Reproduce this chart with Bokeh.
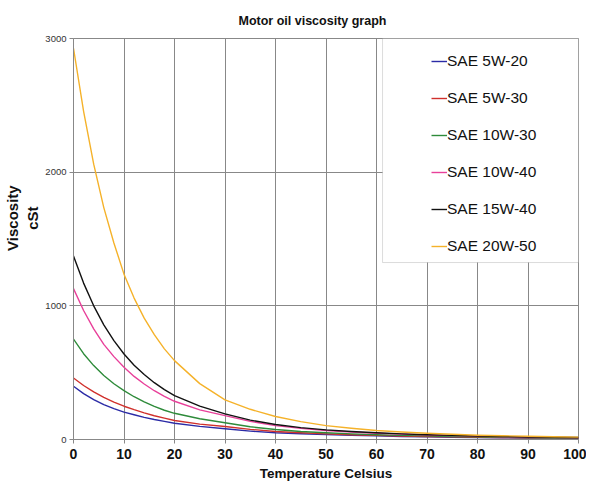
from bokeh.plotting import figure
from bokeh.models import Legend, LegendItem, BoxAnnotation, Range1d, FixedTicker
from bokeh.embed import file_html
from bokeh.resources import INLINE

temps = [0, 2, 4, 6, 8, 10, 12, 14, 16, 18, 20, 25, 30, 35, 40, 45, 50, 55, 60, 65, 70, 75, 80, 85, 90, 95, 100]

sae_5w20 = [398, 343, 298, 261, 231, 205, 185, 166, 150, 136, 122, 98, 80, 63, 50, 43, 37, 31, 27, 23, 20, 17, 15, 13, 11, 10, 9]
sae_5w30 = [460, 404, 356, 315, 280, 249, 223, 199, 178, 160, 142, 115, 97, 76, 60, 50, 42, 36, 31, 26, 23, 20, 17, 15, 13, 12, 11]
sae_10w30 = [751, 642, 553, 479, 417, 366, 320, 282, 248, 219, 196, 155, 125, 95, 75, 60, 50, 42, 36, 31, 27, 23, 20, 17, 15, 13, 12]
sae_10w40 = [1129, 965, 828, 712, 620, 540, 472, 415, 365, 323, 286, 222, 179, 136, 104, 83, 67, 56, 47, 40, 34, 29, 25, 21, 18, 16, 14]
sae_15w40 = [1373, 1170, 1000, 858, 740, 640, 556, 486, 425, 373, 328, 250, 192, 145, 112, 89, 72, 60, 50, 42, 36, 31, 26, 22, 19, 17, 15]
sae_20w50 = [2927, 2455, 2060, 1735, 1470, 1237, 1058, 908, 784, 678, 590, 418, 296, 226, 172, 134, 104, 84, 67, 56, 47, 39, 32, 28, 24, 21, 18]

series_names = ["SAE 5W-20", "SAE 5W-30", "SAE 10W-30", "SAE 10W-40", "SAE 15W-40", "SAE 20W-50"]
series_values = [sae_5w20, sae_5w30, sae_10w30, sae_10w40, sae_15w40, sae_20w50]
series_colors = ["#2b2ba6", "#d0302c", "#2e8b3a", "#e8409a", "#111111", "#f5b22a"]

x_ticks = [0, 10, 20, 30, 40, 50, 60, 70, 80, 90, 100]
y_ticks = [0, 1000, 2000, 3000]

FONT = "Liberation Sans"
PAD = "\u00a0" * 10

p = figure(width=586, height=484, output_backend="svg", toolbar_location=None,
           x_range=Range1d(0, 100), y_range=Range1d(0, 3000),
           min_border_left=73, min_border_right=8, min_border_top=38, min_border_bottom=45,
           title="Motor oil viscosity graph")
p.background_fill_color = "white"
p.border_fill_color = "white"
p.outline_line_color = "#888888"
p.outline_line_width = 1

p.title.text_font = FONT
p.title.text_font_size = "12.5px"
p.title.text_font_style = "bold"
p.title.text_color = "#111111"
p.title.align = "left"
p.title.offset = 165
p.title.standoff = 22

# axes
p.xaxis.ticker = FixedTicker(ticks=x_ticks)
p.yaxis.ticker = FixedTicker(ticks=y_ticks)
for ax in (p.xaxis, p.yaxis):
    ax.axis_line_color = "#888888"
    ax.major_tick_line_color = "#888888"
    ax.major_tick_out = 4
    ax.major_tick_in = 0
    ax.minor_tick_out = 0
    ax.minor_tick_in = 0
    ax.axis_label_text_font = FONT
    ax.axis_label_text_font_style = "bold"
    ax.major_label_text_font = FONT

p.xaxis.major_label_text_font_size = "14px"
p.xaxis.major_label_text_font_style = "bold"
p.xaxis.major_label_text_color = "#111111"
p.xaxis.major_label_standoff = 5
p.xaxis.axis_label = "Temperature Celsius"
p.xaxis.axis_label_text_font_size = "13.5px"
p.xaxis.axis_label_standoff = 4
p.xaxis.axis_label_text_color = "#111111"

p.yaxis.major_label_text_font_size = "9.5px"
p.yaxis.major_label_text_color = "#333333"
p.yaxis.major_label_standoff = 3
p.yaxis.axis_label = PAD + "Viscosity\n" + PAD + "cSt"
p.yaxis.axis_label_text_font_size = "15px"
p.yaxis.axis_label_standoff = 1
p.yaxis.axis_label_text_color = "#111111"

p.xgrid.grid_line_color = "#888888"
p.ygrid.grid_line_color = "#888888"
p.xgrid.grid_line_width = 1
p.ygrid.grid_line_width = 1

renderers = []
for name, vals, col in zip(series_names, series_values, series_colors):
    r = p.line(temps, vals, line_color=col, line_width=1.4, line_join="round")
    renderers.append(r)

box = BoxAnnotation(left=61.2, right=100, bottom=1324, top=3000,
                    fill_color="white", fill_alpha=1.0,
                    line_color="#888888", line_width=1)
p.add_layout(box)

legend = Legend(items=[LegendItem(label=n, renderers=[r]) for n, r in zip(series_names, renderers)],
                location=(358, 183), orientation="vertical")
legend.padding = 0
legend.margin = 0
legend.spacing = 17
legend.glyph_width = 16
legend.glyph_height = 20
legend.label_height = 20
legend.label_standoff = 0
legend.label_text_font = FONT
legend.label_text_font_size = "15.5px"
legend.label_text_color = "#111111"
legend.border_line_color = None
legend.background_fill_alpha = 0
legend.inactive_fill_alpha = 0
p.add_layout(legend)

open("out.html", "w").write(file_html(p, INLINE))
